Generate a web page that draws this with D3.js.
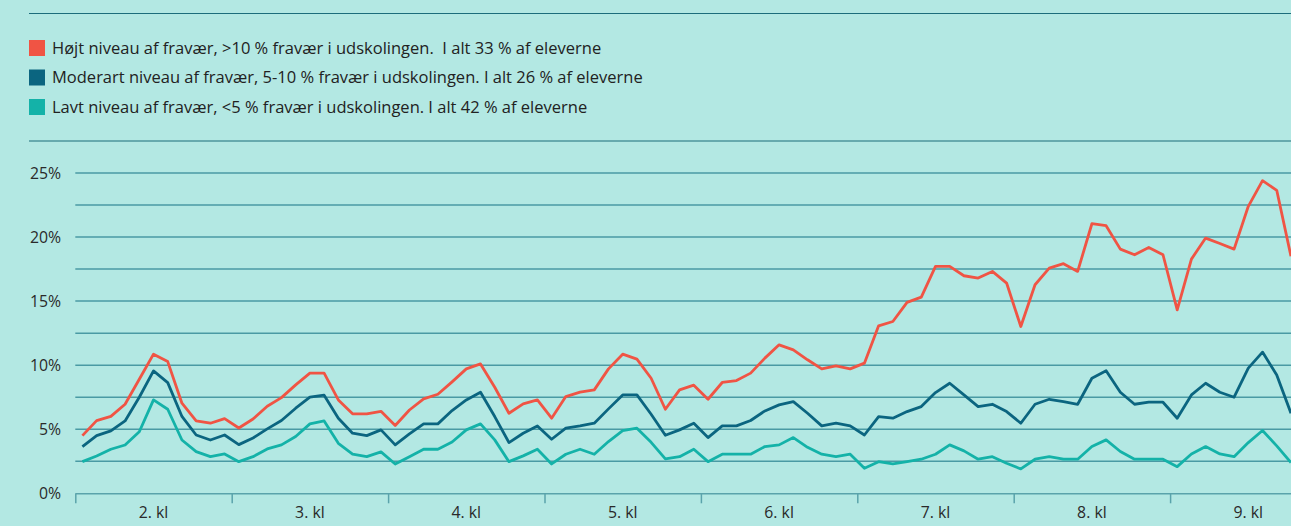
<!DOCTYPE html>
<html>
<head>
<meta charset="utf-8">
<script src="https://cdn.jsdelivr.net/npm/d3@7"></script>
<style>
  html, body { margin: 0; padding: 0; background: #b3e8e3; overflow: hidden; }
  svg { display: block; font-family: "Open Sans", "Noto Sans", sans-serif; }
  .grid line { stroke: #4a9aa4; stroke-width: 1.5; }
  .rule { stroke: #1c6c7b; stroke-width: 1.2; }
  .ylab { fill: #2a2a2a; font-size: 15.8px; }
  .xlab { fill: #2a2a2a; font-size: 15.8px; }
  .legend text { fill: #222; font-size: 16.5px; white-space: pre; }
</style>
</head>
<body>
<svg id="canvas" width="1291" height="526"></svg>
<script>
// grades on the x axis, 11 school months each
var grades = ["2. kl", "3. kl", "4. kl", "5. kl", "6. kl", "7. kl", "8. kl", "9. kl"];
var monthsPerGrade = 11;

var yTicks = [0, 5, 10, 15, 20, 25];

var legendLabels = [
  "Højt niveau af fravær, >10 % fravær i udskolingen.  I alt 33 % af eleverne",
  "Moderart niveau af fravær, 5-10 % fravær i udskolingen. I alt 26 % af eleverne",
  "Lavt niveau af fravær, <5 % fravær i udskolingen. I alt 42 % af eleverne"
];
var colors = ["#f05444", "#0b6580", "#14b2a8"];

// fravær i procent, en værdi pr. måned
var hoej = [
  4.5, 5.67, 6.0, 6.95, 8.9, 10.86, 10.28, 7.03, 5.65, 5.47, 5.83,
  5.1, 5.8, 6.8, 7.47, 8.46, 9.38, 9.38, 7.29, 6.2, 6.2, 6.4,
  5.29, 6.5, 7.37, 7.73, 8.7, 9.71, 10.1, 8.28, 6.25, 6.98, 7.29,
  5.86, 7.55, 7.89, 8.07, 9.71, 10.86, 10.47, 8.98, 6.56, 8.07, 8.44,
  7.34, 8.65, 8.8, 9.38, 10.55, 11.59, 11.2, 10.42, 9.71, 9.95, 9.71,
  10.16, 13.07, 13.41, 14.9, 15.31, 17.71, 17.71, 16.98, 16.8, 17.32, 16.41,
  13.02, 16.28, 17.58, 17.92, 17.32, 21.04, 20.89, 19.06, 18.62, 19.19, 18.62,
  14.32, 18.28, 19.92, 19.5, 19.06, 22.4, 24.4, 23.65, 18.5
];
var moderat = [
  3.64, 4.5, 4.87, 5.65, 7.5, 9.55, 8.64, 6.0, 4.55, 4.16, 4.55,
  3.8, 4.32, 5.03, 5.68, 6.64, 7.5, 7.66, 5.86, 4.69, 4.5, 4.95,
  3.78, 4.64, 5.42, 5.42, 6.46, 7.29, 7.89, 5.99, 3.96, 4.69, 5.26,
  4.22, 5.08, 5.26, 5.47, 6.59, 7.68, 7.68, 6.17, 4.53, 4.95, 5.47,
  4.35, 5.26, 5.26, 5.68, 6.43, 6.9, 7.16, 6.25, 5.26, 5.47, 5.26,
  4.55, 5.99, 5.86, 6.38, 6.77, 7.86, 8.59, 7.68, 6.77, 6.95, 6.38,
  5.47, 6.95, 7.34, 7.16, 6.95, 8.98, 9.56, 7.89, 6.95, 7.11, 7.11,
  5.86, 7.68, 8.59, 7.89, 7.5, 9.77, 11.02, 9.24, 6.25
];
var lavt = [
  2.47, 2.91, 3.44, 3.77, 4.8, 7.29, 6.56, 4.16, 3.25, 2.86, 3.07,
  2.47, 2.86, 3.46, 3.78, 4.43, 5.42, 5.65, 3.9, 3.05, 2.86, 3.23,
  2.29, 2.86, 3.44, 3.44, 4.0, 4.95, 5.42, 4.17, 2.47, 2.92, 3.44,
  2.29, 3.05, 3.44, 3.05, 4.04, 4.9, 5.08, 3.98, 2.68, 2.86, 3.44,
  2.47, 3.05, 3.05, 3.05, 3.65, 3.78, 4.35, 3.59, 3.05, 2.86, 3.05,
  1.95, 2.47, 2.29, 2.47, 2.66, 3.05, 3.78, 3.31, 2.66, 2.86, 2.34,
  1.9, 2.66, 2.86, 2.66, 2.66, 3.65, 4.17, 3.26, 2.66, 2.66, 2.66,
  2.08, 3.07, 3.65, 3.07, 2.86, 3.96, 4.9, 3.7, 2.4
];

var svg = d3.select("#canvas");
var width = 1291;
var left = 75.3, gradeWidth = 156.4;

var x = d3.scaleLinear()
  .domain([0, grades.length * monthsPerGrade])
  .range([left, left + grades.length * gradeWidth]);
var y = d3.scaleLinear().domain([0, 25]).range([493.3, 173]);

// top rules
svg.append("line").attr("class", "rule")
  .attr("x1", 29).attr("x2", width).attr("y1", 13.5).attr("y2", 13.5);
svg.append("line").attr("class", "rule")
  .attr("x1", 29).attr("x2", width).attr("y1", 141).attr("y2", 141);

// legend
var legend = svg.append("g").attr("class", "legend");
legendLabels.forEach(function(label, i){
  var g = legend.append("g").attr("transform", "translate(29," + (40 + i * 29.5) + ")");
  g.append("rect").attr("width", 16).attr("height", 16).attr("fill", colors[i]);
  g.append("text").attr("x", 23).attr("y", 8).attr("dy", "0.35em").text(label);
});

// grid lines every 2.5 %
var gridVals = d3.range(2.5, 25.01, 2.5);
svg.append("g").attr("class", "grid")
  .selectAll("line").data(gridVals).enter().append("line")
  .attr("x1", left).attr("x2", width)
  .attr("y1", function(d){ return y(d); })
  .attr("y2", function(d){ return y(d); });

// y labels
svg.append("g").selectAll("text").data(yTicks).enter().append("text")
  .attr("class", "ylab")
  .attr("x", 61).attr("y", function(d){ return y(d); })
  .attr("dy", "0.35em").attr("text-anchor", "end")
  .text(function(d){ return d + "%"; });

// x axis with ticks at grade boundaries
var xAxis = d3.axisBottom(x)
  .tickValues(d3.range(0, grades.length * monthsPerGrade + 1, monthsPerGrade))
  .tickFormat("").tickSize(10).tickSizeOuter(0);
var ax = svg.append("g").attr("transform", "translate(0," + y(0) + ")").call(xAxis);
ax.select(".domain").attr("stroke", "#5aa3ab").attr("stroke-width", 1.5);
ax.selectAll(".tick line").attr("stroke", "#5aa3ab").attr("stroke-width", 1.5);

svg.append("g").selectAll("text").data(grades).enter().append("text")
  .attr("class", "xlab")
  .attr("x", function(d, i){ return x((i + 0.5) * monthsPerGrade); })
  .attr("y", 518).attr("text-anchor", "middle")
  .text(function(d){ return d; });

// lines
var line = d3.line()
  .x(function(d, i){ return x(i + 0.5); })
  .y(function(d){ return y(d); });

[lavt, moderat, hoej].forEach(function(series, k){
  svg.append("path")
    .datum(series)
    .attr("fill", "none")
    .attr("stroke", colors[2 - k])
    .attr("stroke-width", 2.8)
    .attr("stroke-linejoin", "round")
    .attr("d", line);
});
</script>
</body>
</html>
